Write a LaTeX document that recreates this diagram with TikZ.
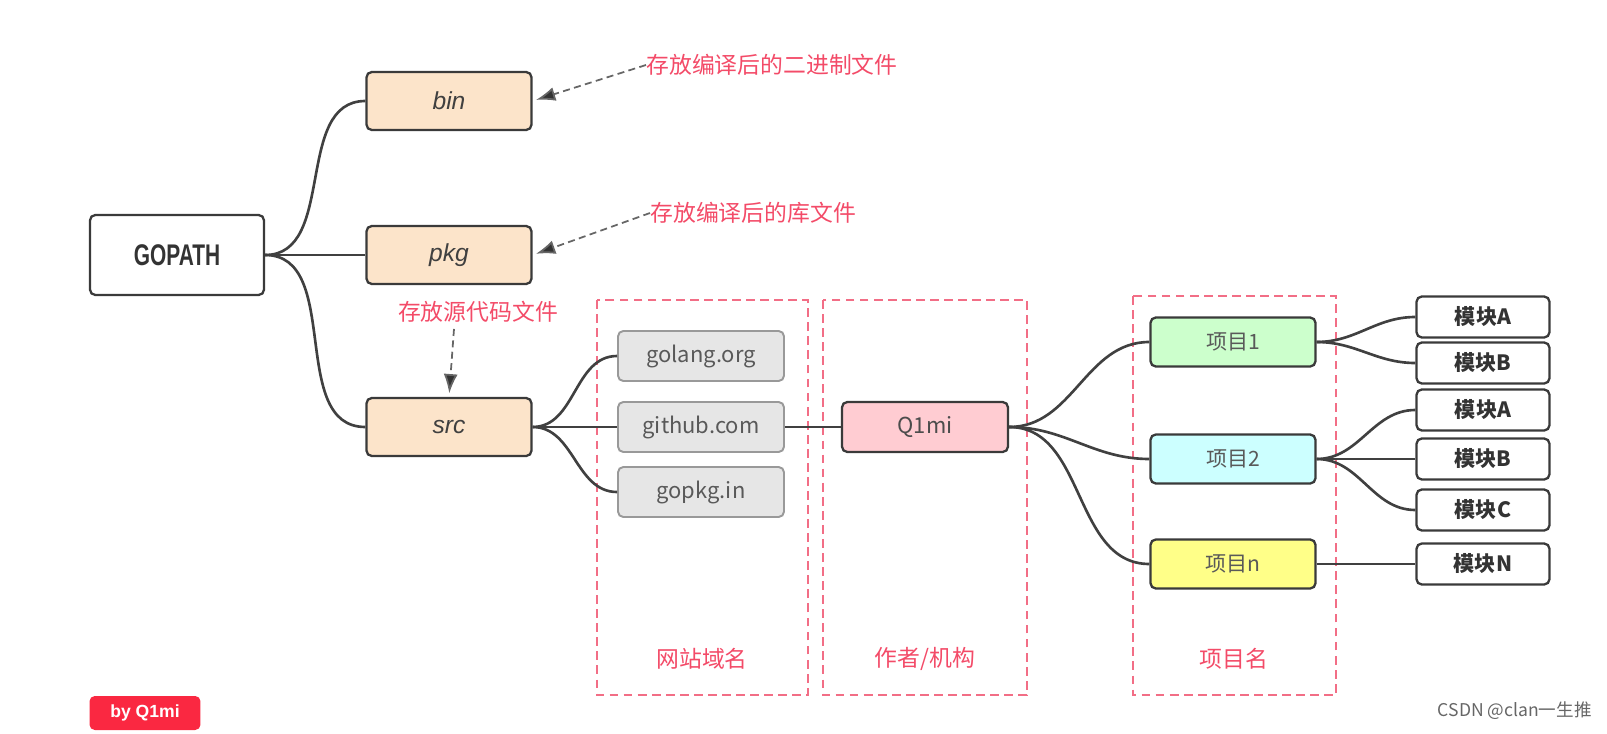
\documentclass[tikz,border=0pt]{standalone}
\usepackage{fontspec}
\setmainfont{Noto Sans CJK SC}
\newfontfamily\latinfont{Liberation Sans}
\newfontfamily\gofont[FakeStretch=0.7]{Liberation Sans}
\usetikzlibrary{calc, positioning, arrows.meta}
\definecolor{boxline}{HTML}{3A3A3A}
\definecolor{peach}{HTML}{FCE4CA}
\definecolor{sitegrey}{HTML}{E6E6E6}
\definecolor{qpink}{HTML}{FFCCD2}
\definecolor{pgreen}{HTML}{CCFFCC}
\definecolor{pcyan}{HTML}{CCFFFF}
\definecolor{pyellow}{HTML}{FFFF88}
\definecolor{notered}{HTML}{F34B68}
\definecolor{grouped}{HTML}{F26E86}
\definecolor{byred}{HTML}{FA2841}

\begin{document}
\begin{tikzpicture}[x=0.02cm, y=-0.02cm,
  box/.style={draw=boxline, line width=1.3pt, rounded corners=3pt, inner sep=0pt},
  dirbox/.style={box, fill=peach, minimum width=3.3cm, minimum height=1.16cm, text=black!75, font=\latinfont\itshape\fontsize{14}{14}\selectfont},
  sitebox/.style={box, draw=black!40, line width=1.1pt, fill=sitegrey, minimum width=3.32cm, minimum height=1cm, text=black!65, font=\fontsize{12.5}{12.5}\selectfont},
  projbox/.style={box, minimum width=3.3cm, minimum height=0.98cm, text=black!65, font=\fontsize{12}{12}\selectfont},
  modbox/.style={box, fill=white, minimum width=2.66cm, minimum height=0.82cm, text=black!80, font=\bfseries\fontsize{12}{12}\selectfont},
  link/.style={draw=black!75, line width=1.5pt},
  note/.style={text=notered, inner sep=0pt, font=\fontsize{13}{13}\selectfont},
  pointer/.style={draw=black!60, line width=1pt, dash pattern=on 4pt off 2.5pt, shorten >=2pt, -{Latex[length=11pt,width=8pt,fill=black!80]}},
  group/.style={draw=grouped, line width=1.2pt, dash pattern=on 5pt off 3pt}]
  \useasboundingbox (0,0) rectangle (1607,734);

  \draw[group] (597,300) rectangle (808,695);
  \draw[group] (823,300) rectangle (1027,695);
  \draw[group] (1133,296) rectangle (1336,695);
  \node[note] (labsite) at (702,659) {网站域名};
  \node[note] (labauthor) at (925,659) {作者/机构};
  \node[note] (labproj) at (1234,659) {项目名};

  \node[box, fill=white, minimum width=3.48cm, minimum height=1.6cm, text=black!80, font=\gofont\bfseries\fontsize{17}{17}\selectfont] (gopath) at (177,255) {GOPATH};
  \node[dirbox] (bin) at (449,101) {bin};
  \node[dirbox] (pkg) at (449,255) {pkg};
  \node[dirbox] (src) at (449,427) {src};

  \node[note, anchor=west] (notebin) at (646,65) {存放编译后的二进制文件};
  \node[note, anchor=west] (notepkg) at (650,213) {存放编译后的库文件};
  \node[note] (notesrc) at (478,312) {存放源代码文件};

  \foreach \name/\txt/\y in {golang/golang.org/356, github/github.com/427, gopkg/gopkg.in/492}{
    \node[sitebox] (\name) at (701,\y) {\txt};
  }
  \node[box, fill=qpink, minimum width=3.32cm, minimum height=1cm, text=black!70, font=\fontsize{12.5}{12.5}\selectfont] (qimi) at (925,427) {Q1mi};

  \node[projbox, fill=pgreen] (proj1) at (1233,342) {项目1};
  \node[projbox, fill=pcyan] (proj2) at (1233,459) {项目2};
  \node[projbox, fill=pyellow] (projn) at (1233,564) {项目n};

  \foreach \name/\txt/\y in {mod1a/A/317, mod1b/B/363, mod2a/A/410, mod2b/B/459, mod2c/C/510, modn/N/564}{
    \node[modbox] (\name) at (1483,\y) {模块\txt};
  }

  \foreach \kid in {bin,pkg,src}{
    \draw[link] (gopath.east) to[out=0, in=180] (\kid.west);
  }
  \foreach \kid in {golang,github,gopkg}{
    \draw[link] (src.east) to[out=0, in=180] (\kid.west);
  }
  \draw[link] (github.east) -- (qimi.west);
  \foreach \kid in {proj1,proj2,projn}{
    \draw[link] (qimi.east) to[out=0, in=180] (\kid.west);
  }
  \foreach \kid in {mod1a,mod1b}{
    \draw[link] (proj1.east) to[out=0, in=180] (\kid.west);
  }
  \foreach \kid in {mod2a,mod2b,mod2c}{
    \draw[link] (proj2.east) to[out=0, in=180] (\kid.west);
  }
  \draw[link] (projn.east) -- (modn.west);

  \draw[pointer] (notebin.west) -- (bin.east);
  \draw[pointer] (notepkg.west) -- (pkg.east);
  \draw[pointer] (notesrc.south) ++(-24,6) coordinate (srctail) -- (src.north);

  \node[fill=byred, rounded corners=3pt, minimum width=2.22cm, minimum height=0.68cm, inner sep=0pt, text=white, font=\latinfont\bfseries\fontsize{10}{10}\selectfont] (byline) at (145,713) {by Q1mi};
  \node[anchor=east, text=black!60, inner sep=0pt, font=\fontsize{10}{10}\selectfont] (mark) at (1592,711) {CSDN @clan一生推};
\end{tikzpicture}
\end{document}
